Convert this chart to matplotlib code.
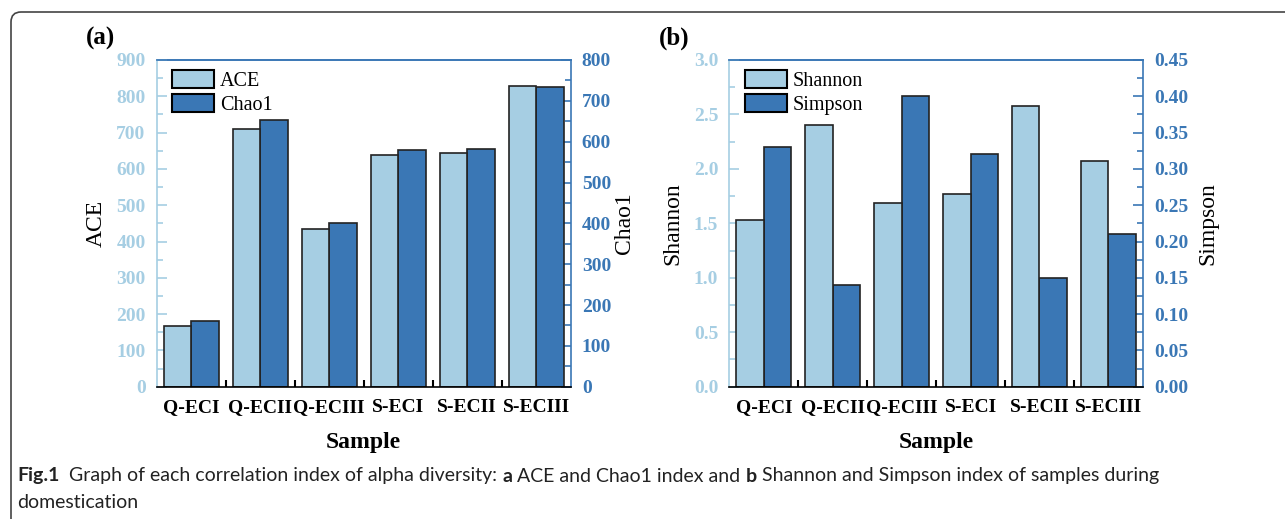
import numpy as np
import matplotlib
matplotlib.use("Agg")
import matplotlib.pyplot as plt
import matplotlib.transforms as mtransforms
from matplotlib.patches import FancyBboxPatch
from matplotlib.ticker import MultipleLocator, FormatStrFormatter

samples = ["Q-ECI", "Q-ECII", "Q-ECIII", "S-ECI", "S-ECII", "S-ECIII"]

ace = [168, 709, 435, 637, 644, 828]
chao1 = [162, 654, 400, 579, 581, 735]

shannon = [1.53, 2.40, 1.69, 1.77, 2.58, 2.07]
simpson = [0.330, 0.140, 0.400, 0.320, 0.150, 0.210]

caption_parts = [
    ("Fig.1", "bold"),
    ("  Graph of each correlation index of alpha diversity: ", "normal"),
    ("a", "bold"),
    (" ACE and Chao1 index and ", "normal"),
    ("b", "bold"),
    (" Shannon and Simpson index of samples during", "normal"),
]
caption_line2 = "domestication"

LIGHT = "#a6cee3"
DARK = "#3a77b5"
SERIF = "Liberation Serif"
CAP_FONT = "Lato"

plt.rcParams["font.family"] = SERIF


def panel(ax, left, right, left_lim, right_lim, left_step, right_step,
          left_fmt, right_fmt, left_name, right_name, tag,
          left_lab_x, right_lab_x):
    x = np.arange(len(samples))
    w = 0.4
    ax.bar(x - w / 2, left, w, color=LIGHT, edgecolor="#222222",
           linewidth=1.2, label=left_name, zorder=2)
    ax2 = ax.twinx()
    ax2.bar(x + w / 2, right, w, color=DARK, edgecolor="#222222",
            linewidth=1.2, label=right_name, zorder=2)

    ax.set_xlim(-0.5, len(samples) - 0.5)
    ax.set_ylim(0, left_lim)
    ax2.set_ylim(0, right_lim)

    # spines: light blue left, blue right/top, black bottom
    for a in (ax, ax2):
        for s in a.spines.values():
            s.set_linewidth(1.2)
    ax.spines["left"].set_color(LIGHT)
    ax.spines["right"].set_visible(False)
    ax.spines["top"].set_color(DARK)
    ax.spines["bottom"].set_color("black")
    ax2.spines["left"].set_visible(False)
    ax2.spines["bottom"].set_visible(False)
    ax2.spines["top"].set_color(DARK)
    ax2.spines["right"].set_color(DARK)

    ax.yaxis.set_major_locator(MultipleLocator(left_step))
    ax.yaxis.set_minor_locator(MultipleLocator(left_step / 2))
    ax.yaxis.set_major_formatter(FormatStrFormatter(left_fmt))
    ax2.yaxis.set_major_locator(MultipleLocator(right_step))
    ax2.yaxis.set_minor_locator(MultipleLocator(right_step / 2))
    ax2.yaxis.set_major_formatter(FormatStrFormatter(right_fmt))

    ax.tick_params(axis="y", which="both", direction="in", color=LIGHT,
                   labelcolor=LIGHT, width=1.2, labelsize=14, pad=8)
    ax.tick_params(axis="y", which="major", length=7)
    ax.tick_params(axis="y", which="minor", length=4)
    ax2.tick_params(axis="y", which="both", direction="in", color=DARK,
                    labelcolor=DARK, width=1.2, labelsize=14, pad=8)
    ax2.tick_params(axis="y", which="major", length=7)
    ax2.tick_params(axis="y", which="minor", length=4)
    for t in ax.get_yticklabels() + ax2.get_yticklabels():
        t.set_fontweight("bold")

    ax.set_xticks(x)
    ax.set_xticklabels(samples, fontsize=14, fontweight="bold")
    ax.set_xticks(x[:-1] + 0.5, minor=True)
    ax.tick_params(axis="x", which="both", direction="in", length=5,
                   width=1.5, color="black", pad=9)

    ax.text(left_lab_x, 0.5, left_name, transform=ax.transAxes,
            rotation=90, ha="center", va="center", fontsize=17)
    ax.text(right_lab_x, 0.5, right_name, transform=ax.transAxes,
            rotation=90, ha="center", va="center", fontsize=17)
    ax.text(0.5, -0.17, "Sample", transform=ax.transAxes, ha="center",
            va="center", fontsize=17, fontweight="bold")
    ax.text(-0.17, 1.065, tag, transform=ax.transAxes, ha="left",
            va="center", fontsize=18, fontweight="bold")

    h1, l1 = ax.get_legend_handles_labels()
    h2, l2 = ax2.get_legend_handles_labels()
    leg = ax.legend(h1 + h2, l1 + l2, loc="upper left",
                    bbox_to_anchor=(0.037, 0.97), frameon=False,
                    fontsize=14.5, handlelength=2.1, handleheight=1.0,
                    labelspacing=0.15, handletextpad=0.3,
                    borderpad=0, borderaxespad=0)
    for p in leg.get_patches():
        p.set_edgecolor("black")
        p.set_linewidth(1.5)
    ax.set_zorder(ax2.get_zorder() + 1)
    ax.patch.set_visible(False)
    return ax2


fig = plt.figure(figsize=(12.85, 5.19), dpi=100)
ax_a = fig.add_axes([0.1219, 0.2549, 0.3222, 0.6295])
ax_b = fig.add_axes([0.5676, 0.2549, 0.3217, 0.6295])

panel(ax_a, ace, chao1, 900, 800, 100, 100, "%d", "%d", "ACE", "Chao1",
      "(a)", -0.147, 1.131)
panel(ax_b, shannon, simpson, 3.0, 0.45, 0.5, 0.05, "%.1f", "%.2f",
      "Shannon", "Simpson", "(b)", -0.136, 1.158)

# caption: mixed bold/regular pieces laid out one after another
renderer = fig.canvas.get_renderer()
W, H = fig.bbox.width, fig.bbox.height
xpix = 17
for s, weight in caption_parts:
    t = fig.text(xpix / W, 1 - 476 / H, s, fontsize=14, family=CAP_FONT,
                 fontweight=weight, ha="left", va="center", color="#222222")
    xpix += t.get_window_extent(renderer).width
fig.text(17 / W, 1 - 502 / H, caption_line2, fontsize=14, family=CAP_FONT,
         ha="left", va="center", color="#222222")

# rounded frame around the figure
frame = FancyBboxPatch((11, -30), 1320, 537,
                       boxstyle="round,pad=0,rounding_size=10",
                       transform=mtransforms.IdentityTransform(),
                       facecolor="none", edgecolor="#444444", linewidth=1.2)
fig.patches.append(frame)

fig.savefig("out.png", dpi=100)
